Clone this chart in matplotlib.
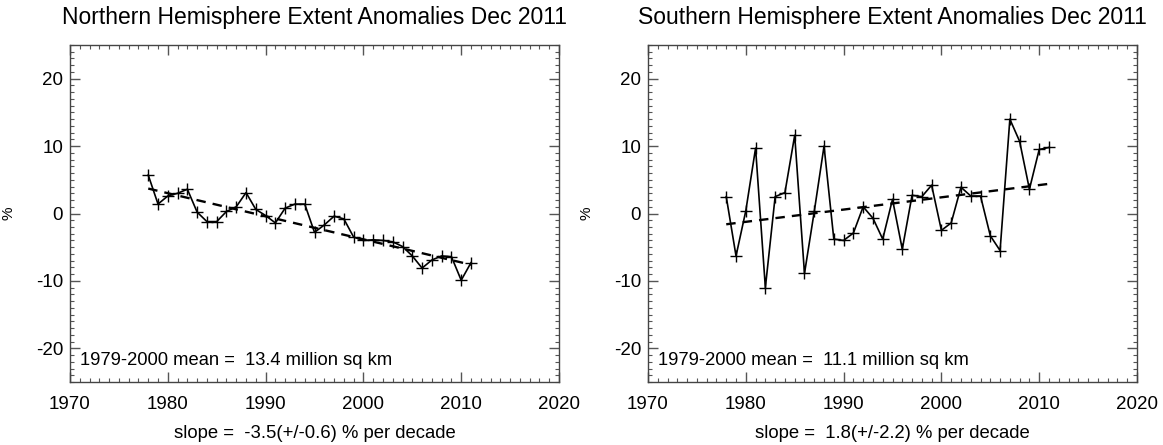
import numpy as np
import matplotlib
matplotlib.use('Agg')
import matplotlib.pyplot as plt
from matplotlib.ticker import MultipleLocator

plt.rcParams['font.family'] = ['Liberation Sans Narrow', 'Liberation Sans', 'DejaVu Sans']
plt.rcParams['axes.unicode_minus'] = False

# 年份 1978-2011 (12月)
years = np.arange(1978, 2012)

# 北半球 海冰范围距平 %
nh_anom = [5.7, 1.4, 2.6, 3.0, 3.6, 0.2, -1.2, -1.2, 0.3, 1.0,
           3.1, 0.6, -0.3, -1.4, 0.8, 1.4, 1.4, -2.8, -1.7, -0.4,
           -0.8, -3.5, -4.0, -3.9, -4.0, -4.2, -4.9, -6.3, -8.1, -6.9,
           -6.3, -6.4, -9.9, -7.3]
# 南半球
sh_anom = [2.5, -6.3, 0.4, 9.7, -11.0, 2.5, 3.1, 11.6, -8.9, 0.3,
           10.0, -3.8, -4.0, -2.9, 1.0, -0.7, -3.8, 2.1, -5.3, 2.7,
           2.5, 4.2, -2.5, -1.4, 3.9, 2.6, 2.6, -3.3, -5.5, 14.0,
           10.7, 3.6, 9.5, 9.8]

# 趋势线端点 (1978, 2011)
trend_years = [1978, 2011]
nh_trend = [3.7, -7.6]
sh_trend = [-1.6, 4.4]

titles = ['Northern Hemisphere Extent Anomalies Dec 2011',
          'Southern Hemisphere Extent Anomalies Dec 2011']
mean_text = ['1979-2000 mean =  13.4 million sq km',
             '1979-2000 mean =  11.1 million sq km']
slope_text = ['slope =  -3.5(+/-0.6) % per decade',
              'slope =  1.8(+/-2.2) % per decade']

fig = plt.figure(figsize=(11.63, 4.45), dpi=100)
W, H = 1163, 445
boxes = [[70, 45, 489, 337], [648, 45, 489, 337]]
series = [nh_anom, sh_anom]
trends = [nh_trend, sh_trend]

for i in range(2):
    x0, y0, w, h = boxes[i]
    ax = fig.add_axes([x0 / W, (H - y0 - h) / H, w / W, h / H])
    ax.plot(years, series[i], c='black', lw=1.2, marker='+', ms=8, mew=1.0)
    ax.plot(trend_years, trends[i], c='black', lw=1.7, ls=(0, (4, 3)))
    ax.set_xlim(1970, 2020)
    ax.set_ylim(-25, 25)
    ax.xaxis.set_major_locator(MultipleLocator(10))
    ax.xaxis.set_minor_locator(MultipleLocator(1))
    ax.yaxis.set_major_locator(MultipleLocator(10))
    ax.yaxis.set_minor_locator(MultipleLocator(1))
    ax.tick_params(which='both', direction='in', top=True, right=True, color='#555555')
    ax.tick_params(which='major', length=7, width=1.0, labelsize=13.5)
    ax.tick_params(axis='x', which='major', pad=10)
    ax.tick_params(axis='y', which='major', pad=5)
    ax.tick_params(which='minor', length=3, width=0.8)
    for sp in ax.spines.values():
        sp.set_color('#444444')
        sp.set_linewidth(1.0)
    ax.set_title(titles[i], fontsize=16.5, pad=15)
    ax.set_ylabel('%', fontsize=11)
    ax.yaxis.set_label_coords(-0.112, 0.5)
    ax.set_xlabel(slope_text[i], fontsize=13.3, labelpad=9)
    ax.text(0.02, 0.05, mean_text[i], transform=ax.transAxes, fontsize=13.2)

fig.savefig('out.png', dpi=100)
